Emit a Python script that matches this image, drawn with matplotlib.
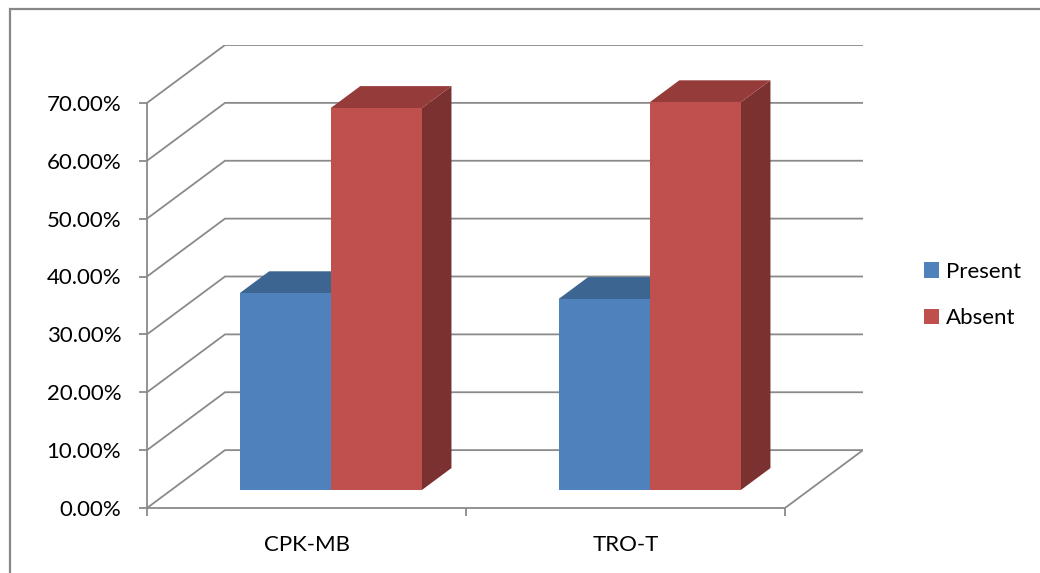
import matplotlib
matplotlib.use("Agg")
import matplotlib.pyplot as plt
from matplotlib.patches import Polygon, Rectangle
from matplotlib.ticker import FuncFormatter

plt.rcParams['font.family'] = ['Lato', 'DejaVu Sans']

# data
categories = ['CPK-MB', 'TRO-T']
series = ['Present', 'Absent']
present = [0.34, 0.33]
absent = [0.66, 0.67]
y_ticks = [0.0, 0.1, 0.2, 0.3, 0.4, 0.5, 0.6, 0.7]

# colours per series: front, top, side
faces = {
    'Present': ('#4F81BD', '#3D6591', '#2F4F74'),
    'Absent': ('#C0504D', '#953C3A', '#7A3130'),
}
grid_col = '#8A8A8A'

# fake 3d: depth vector in data units (x in categories, y in values)
depth_x = 0.2445
depth_y = 0.1
bar_front, bar_back = 0.31, 0.69
gap = 1.5  # gap width relative to one bar

fig = plt.figure(figsize=(10.4, 5.73), dpi=100)
ax = fig.add_axes([147 / 1040, 65 / 573, 716 / 1040, 463 / 573])
ax.set_xlim(0, len(categories) + depth_x)
ax.set_ylim(0, y_ticks[-1] + depth_y)

# walls: gridlines run along the side wall then across the back wall
for v in y_ticks:
    ax.plot([0, depth_x, len(categories) + depth_x],
            [v, v + depth_y, v + depth_y],
            color=grid_col, lw=1.3, solid_joinstyle='miter', zorder=1)
# right edge of the floor
ax.plot([len(categories), len(categories) + depth_x], [0, depth_y],
        color=grid_col, lw=1.3, zorder=1)


def box(x0, w, h, cols):
    fx, fy = bar_front * depth_x, bar_front * depth_y
    bx, by = bar_back * depth_x, bar_back * depth_y
    front, top, side = cols
    ax.add_patch(Polygon([(x0 + w + fx, fy), (x0 + w + bx, by),
                          (x0 + w + bx, h + by), (x0 + w + fx, h + fy)],
                         closed=True, facecolor=side, edgecolor='none', zorder=2))
    ax.add_patch(Polygon([(x0 + fx, h + fy), (x0 + w + fx, h + fy),
                          (x0 + w + bx, h + by), (x0 + bx, h + by)],
                         closed=True, facecolor=top, edgecolor='none', zorder=2))
    ax.add_patch(Rectangle((x0 + fx, fy), w, h, facecolor=front,
                           edgecolor='none', zorder=2))


bar_w = 1 / (len(series) + gap)
for i in range(len(categories)):
    start = i + gap * bar_w / 2
    for j, (name, vals) in enumerate(zip(series, [present, absent])):
        box(start + j * bar_w, bar_w, vals[i], faces[name])

# front axes
for s in ['top', 'right']:
    ax.spines[s].set_visible(False)
for s in ['left', 'bottom']:
    ax.spines[s].set_color(grid_col)
    ax.spines[s].set_linewidth(1.3)
ax.spines['left'].set_bounds(0, y_ticks[-1])
ax.spines['bottom'].set_bounds(0, len(categories))
ax.spines['left'].set_zorder(0.5)

ax.set_yticks(y_ticks)
ax.yaxis.set_major_formatter(FuncFormatter(lambda v, p: f'{v * 100:.2f}%'))
ax.tick_params(axis='y', length=6, width=1.3, color=grid_col,
               labelsize=16, labelcolor='black', pad=12.5)

ax.set_xticks(range(len(categories) + 1))
ax.set_xticklabels([])
ax.set_xticks([i + 0.5 for i in range(len(categories))], minor=True)
ax.set_xticklabels(categories, minor=True)
ax.tick_params(axis='x', which='major', length=6, width=1.3, color=grid_col)
ax.tick_params(axis='x', which='minor', length=0, labelsize=16,
               labelcolor='black', pad=19.5)

# legend
handles = [Rectangle((0, 0), 1, 1, facecolor=faces[s][0]) for s in series]
fig.legend(handles, series, loc='center left', bbox_to_anchor=(924 / 1040, 0.485),
           frameon=False, fontsize=16, borderpad=0, borderaxespad=0,
           handlelength=0.68, handleheight=0.68,
           handletextpad=0.32, labelspacing=1.2)

# chart area border
fig.add_artist(Rectangle((9.5 / 1040, -0.1), 1.2, 0.1 + 563.5 / 573,
                         transform=fig.transFigure, facecolor='none',
                         edgecolor='#878787', lw=1.6))

fig.savefig('out.png', dpi=100)
